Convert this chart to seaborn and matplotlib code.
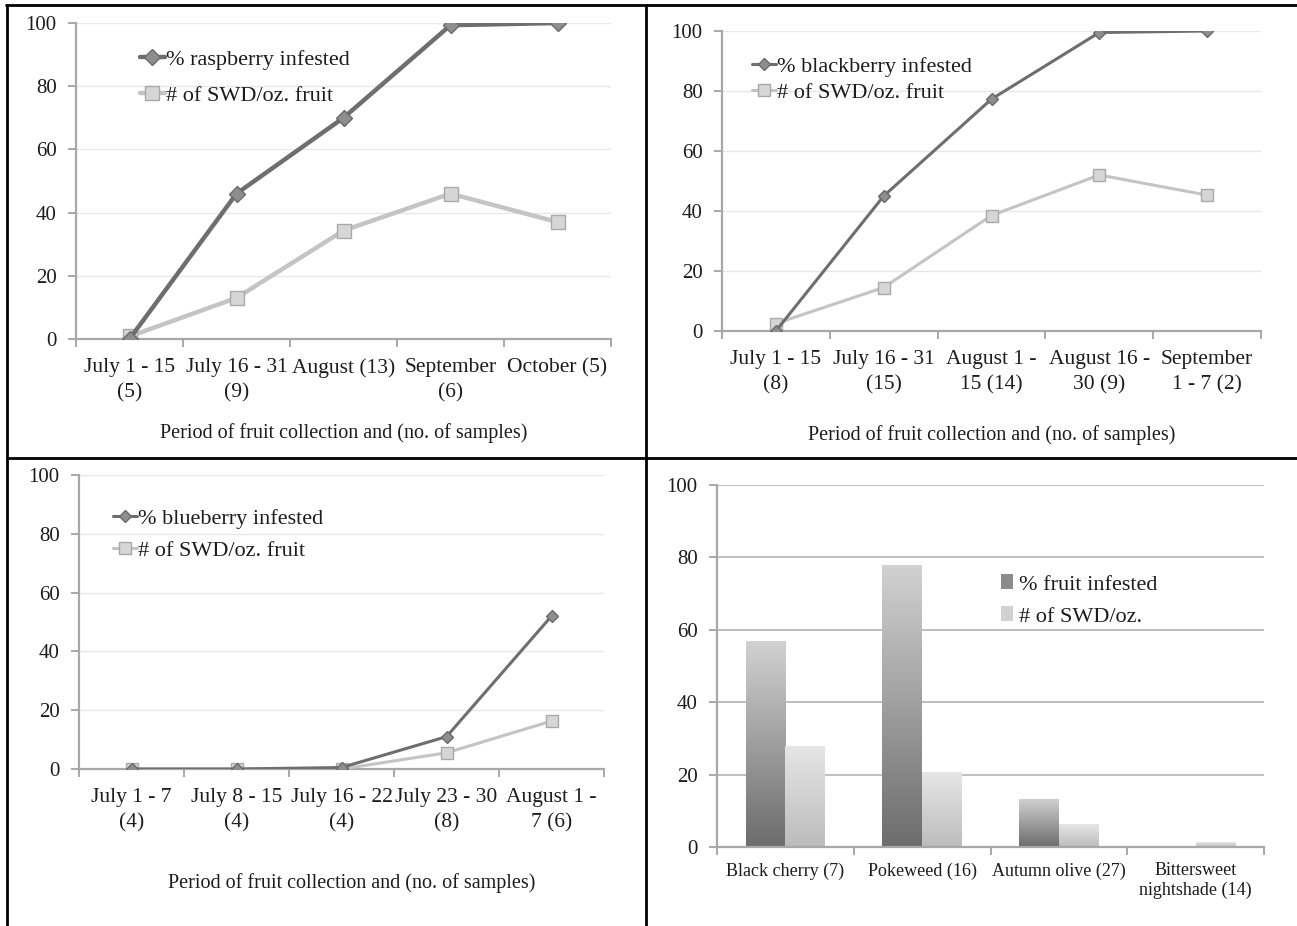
import numpy as np
import pandas as pd
import matplotlib
matplotlib.use("Agg")
import matplotlib.pyplot as plt
from matplotlib.lines import Line2D
import seaborn as sns

# ---------------- data ----------------
rasp_periods = ["July 1 - 15\n(5)", "July 16 - 31\n(9)", "August (13)", "September\n(6)", "October (5)"]
rasp_infested = [0, 46, 70, 99.3, 100]
rasp_swd = [0.8, 13, 34.3, 46, 37]

black_periods = ["July 1 - 15\n(8)", "July 16 - 31\n(15)", "August 1 -\n15 (14)", "August 16 -\n30 (9)", "September\n1 - 7 (2)"]
black_infested = [0, 45, 77.3, 99.5, 100]
black_swd = [2.5, 14.5, 38.5, 52, 45.3]

blue_periods = ["July 1 - 7\n(4)", "July 8 - 15\n(4)", "July 16 - 22\n(4)", "July 23 - 30\n(8)", "August 1 -\n7 (6)"]
blue_infested = [0, 0, 0.5, 11, 52]
blue_swd = [0, 0, 0, 5.5, 16.3]

plants = ["Black cherry (7)", "Pokeweed (16)", "Autumn olive (27)", "Bittersweet\nnightshade (14)"]
plant_infested = [57, 78, 13.3, 0.3]
plant_swd = [28, 20.7, 6.3, 1.3]

xlabel_text = "Period of fruit collection and (no. of samples)"

# ---------------- style ----------------
sns.set_theme(style="white")
plt.rcParams["font.family"] = ["Liberation Serif", "DejaVu Serif"]
TXT = "#1c1c1c"
AXC = "#a8a8a8"
DARK = "#6e6e6e"
LIGHT = "#c4c4c4"
FS = 16
TFS = 15.5

fig = plt.figure(figsize=(12.97, 9.26), dpi=100)
W, H = 1297.0, 926.0


def add_axes_px(x0, x1, ytop, ybot):
    return fig.add_axes([x0 / W, 1 - ybot / H, (x1 - x0) / W, (ybot - ytop) / H])


def style_axes(ax, grid_color, tick_fs, ncat, pad):
    ax.set_ylim(0, 100)
    ax.set_xlim(-0.5, ncat - 0.5)
    ax.set_yticks([0, 20, 40, 60, 80, 100])
    ax.yaxis.grid(True, color=grid_color, linewidth=1.0)
    ax.xaxis.grid(False)
    ax.set_axisbelow(True)
    for s in ["top", "right"]:
        ax.spines[s].set_visible(False)
    for s in ["left", "bottom"]:
        ax.spines[s].set_color(AXC)
        ax.spines[s].set_linewidth(1.6)
    ax.set_xticks(np.arange(-0.5, ncat), minor=True)
    ax.tick_params(axis="x", which="major", length=0, pad=pad, labelsize=tick_fs, labelcolor=TXT)
    ax.tick_params(axis="x", which="minor", length=6, width=1.4, color=AXC, direction="out", bottom=True)
    ax.tick_params(axis="y", which="major", length=6, width=1.4, color=AXC, direction="out",
                   left=True, pad=8, labelsize=15, labelcolor=TXT)


def line_panel(ax, cats, inf, swd, inf_label, lw, dms, sms, grid_color, legend_anchor, lspace, xlab_y, xlab_x):
    x = np.arange(len(cats))
    sns.lineplot(x=x, y=swd, ax=ax, color=LIGHT, linewidth=lw, marker="s", markersize=sms,
                 markerfacecolor="#d6d6d6", markeredgecolor="#a9a9a9", markeredgewidth=1.0,
                 label="# of SWD/oz. fruit", zorder=3)
    sns.lineplot(x=x, y=inf, ax=ax, color=DARK, linewidth=lw, marker="D", markersize=dms,
                 markerfacecolor="#8e8e8e", markeredgecolor="#6a6a6a", markeredgewidth=1.0,
                 label=inf_label, zorder=4)
    style_axes(ax, grid_color, TFS, len(cats), 14)
    ax.set_xticks(x)
    ax.set_xticklabels(cats, linespacing=1.4)
    ax.set_xlabel(xlabel_text, fontsize=14.5, color=TXT)
    ax.xaxis.set_label_coords(xlab_x, xlab_y)
    ax.set_ylabel("")
    h, l = ax.get_legend_handles_labels()
    ax.legend(h[::-1], l[::-1], loc="upper left", bbox_to_anchor=legend_anchor, frameon=False,
              fontsize=FS, handlelength=1.1, handletextpad=0.05, labelspacing=lspace,
              borderaxespad=0, borderpad=0, labelcolor=TXT)


# ---- top-left: raspberry
ax1 = add_axes_px(76, 611, 23, 339)
line_panel(ax1, rasp_periods, rasp_infested, rasp_swd, "% raspberry infested",
           lw=3.2, dms=8, sms=10, grid_color="#e8e8e8",
           legend_anchor=(0.12, 0.916), lspace=0.67, xlab_y=-0.266, xlab_x=0.5)

# ---- top-right: blackberry
ax2 = add_axes_px(722, 1261, 31, 331)
line_panel(ax2, black_periods, black_infested, black_swd, "% blackberry infested",
           lw=2.2, dms=6, sms=8, grid_color="#e8e8e8",
           legend_anchor=(0.055, 0.915), lspace=0.22, xlab_y=-0.315, xlab_x=0.5)

# ---- bottom-left: blueberry
ax3 = add_axes_px(79, 604, 475, 769)
line_panel(ax3, blue_periods, blue_infested, blue_swd, "% blueberry infested",
           lw=2.2, dms=6, sms=8, grid_color="#e8e8e8",
           legend_anchor=(0.064, 0.886), lspace=0.49, xlab_y=-0.355, xlab_x=0.52)

# ---- bottom-right: other hosts (bars)
ax4 = add_axes_px(717, 1264, 485, 847)
df = pd.DataFrame({
    "plant": plants * 2,
    "value": plant_infested + plant_swd,
    "series": ["% fruit infested"] * len(plants) + ["# of SWD/oz."] * len(plants),
})
sns.barplot(data=df, x="plant", y="value", hue="series", ax=ax4,
            palette=["#8c8c8c", "#d2d2d2"], width=0.58, gap=0, saturation=1,
            linewidth=0, errorbar=None)
style_axes(ax4, "#b8b8b8", 13, len(plants), 11)
ax4.yaxis.grid(True, color="#b4b4b4", linewidth=1.2)
ax4.set_xlabel("")
ax4.set_ylabel("")

# vertical gradients on bars
grads = [("#6c6c6c", "#d2d2d2"), ("#bcbcbc", "#e6e6e6")]
for cont, (c_bot, c_top) in zip(ax4.containers, grads):
    cmap = matplotlib.colors.LinearSegmentedColormap.from_list("g", [c_bot, c_top])
    for p in cont.patches:
        x0, y0 = p.get_x(), p.get_y()
        w, h = p.get_width(), p.get_height()
        if h <= 0:
            continue
        grad = np.linspace(0, 1, 256).reshape(-1, 1)
        im = ax4.imshow(grad, extent=[x0, x0 + w, y0, y0 + h], origin="lower",
                        cmap=cmap, aspect="auto", zorder=2)
        im.set_clip_path(p)
ax4.set_xlim(-0.5, len(plants) - 0.5)
ax4.set_ylim(0, 100)
ax4.set_aspect("auto")
h, l = ax4.get_legend_handles_labels()
ax4.legend(h, l, loc="upper left", bbox_to_anchor=(0.52, 0.753), frameon=False,
           fontsize=FS, handlelength=0.5, handleheight=0.65, handletextpad=0.3,
           labelspacing=0.53, borderaxespad=0, borderpad=0, labelcolor=TXT)

# ---------------- table borders ----------------
bw = 2.0
fig.add_artist(Line2D([6 / W, 1297 / W], [1 - 5 / H, 1 - 5 / H], color="black", lw=bw))
fig.add_artist(Line2D([7 / W, 7 / W], [0, 1 - 5 / H], color="black", lw=bw))
fig.add_artist(Line2D([7 / W, 1297 / W], [1 - 458 / H, 1 - 458 / H], color="black", lw=bw))
fig.add_artist(Line2D([646 / W, 646 / W], [0, 1 - 5 / H], color="black", lw=bw))

fig.savefig("out.png", dpi=100, facecolor="white")
